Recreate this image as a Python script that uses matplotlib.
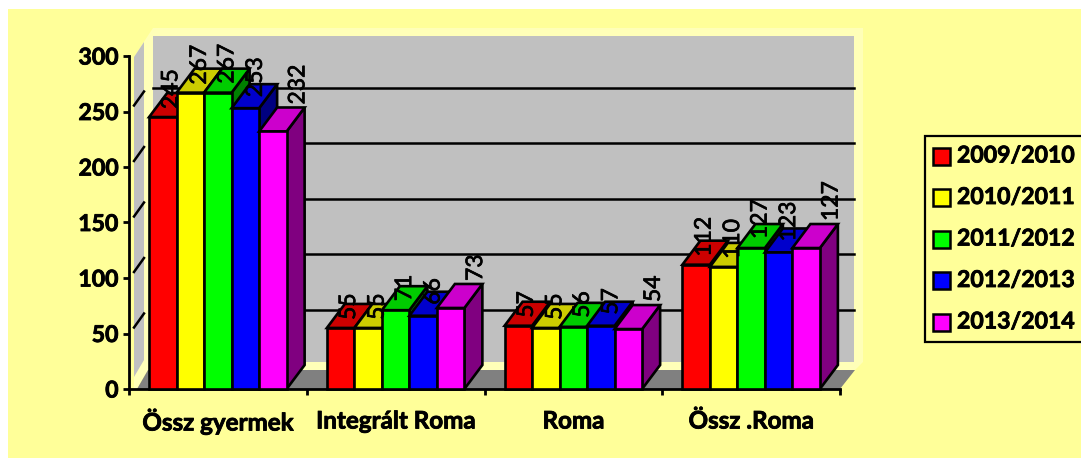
import matplotlib
matplotlib.use('Agg')
import matplotlib.pyplot as plt
import matplotlib.patheffects as pe
from matplotlib.patches import Polygon, Rectangle

categories = ['Össz gyermek', 'Integrált Roma', 'Roma', 'Össz .Roma']
seasons = ['2009/2010', '2010/2011', '2011/2012', '2012/2013', '2013/2014']
v_2009 = [245, 55, 57, 112]
v_2010 = [267, 55, 55, 110]
v_2011 = [267, 71, 56, 127]
v_2012 = [253, 66, 57, 123]
v_2013 = [232, 73, 54, 127]
series = [v_2009, v_2010, v_2011, v_2012, v_2013]
yticks = [0, 50, 100, 150, 200, 250, 300]

fronts = [(1, 0, 0), (1, 1, 0), (0, 1, 0), (0, 0, 1), (1, 0, 1)]
label_offsets = [(8, 8), (9, 8), (9, 9), (10, 11), (25, 27)]

W, H = 1081, 459
plt.rcParams['font.family'] = ['Lato', 'DejaVu Sans']
fig = plt.figure(figsize=(W / 100, H / 100), dpi=100, facecolor='white')

# the reference text is heavier than Lato, thicken it a little
bold_fx = [pe.withStroke(linewidth=0.6, foreground='black')]
label_fx = [pe.withStroke(linewidth=0.5, foreground='black')]

# background layer in pixel coordinates
bg = fig.add_axes([0, 0, 1, 1])
bg.set_xlim(0, W)
bg.set_ylim(H, 0)
bg.axis('off')
PANEL = '#FFFF99'
PALE = '#FFFFB8'
bg.add_patch(Rectangle((8, 9), W - 8, 449, fc=PANEL, ec='none'))
# pale wall edges, grey walls and floor
bg.add_patch(Polygon([(134, 57), (153, 28), (863, 28), (863, 362), (855, 370), (148, 370), (137, 389), (134, 389)],
                     fc=PALE, ec='none'))
bg.add_patch(Polygon([(153, 36), (854, 36), (854, 362), (153, 362)], fc='#C0C0C0', ec='none'))
bg.add_patch(Polygon([(134, 57), (144, 42), (144, 360), (134, 377)], fc='#C0C0C0', ec='none'))
bg.add_patch(Polygon([(137, 389), (148, 370), (855, 370), (840, 389)], fc='#808080', ec='none'))

# legend
bg.add_patch(Rectangle((925, 136), 170, 206, fc=PANEL, ec='black', lw=1.6))
for i, name in enumerate(seasons):
    yc = 156 + i * 41.5
    bg.add_patch(Rectangle((933, yc - 8.5), 17, 17, fc=fronts[i], ec='black', lw=1.8))
    bg.text(957, yc, name, fontsize=16.6, fontweight='bold', va='center', ha='left', color='black',
            path_effects=bold_fx)

# data layer
ax = fig.add_axes([129 / W, 1 - 389 / H, 711 / W, 333 / H])
ax.patch.set_alpha(0)
ax.set_xlim(0, 4)
ax.set_ylim(0, 300)
PX = 4 / 711
PY = 300 / 333
DX, DY = 18 * PX, 24 * PY

for y in yticks[1:-1]:
    ax.plot([24 * PX, 725 * PX], [y + DY, y + DY], color='black', lw=1.8, clip_on=False, zorder=1)
    ax.plot([5 * PX, 15 * PX], [y + 6 * PY, y + 20 * PY], color='black', lw=1.8, clip_on=False, zorder=1)

bw = 27.5 * PX
for g in range(len(categories)):
    for s, vals in enumerate(series):
        x0 = g + 0.5 + (s - 2.5) * bw
        x1 = x0 + bw
        v = vals[g]
        r, gr, b = fronts[s]
        top = (r * 0.8, gr * 0.8, b * 0.8)
        side = (r * 0.5, gr * 0.5, b * 0.5)
        kw = dict(ec='black', lw=1.9, joinstyle='miter', clip_on=False, zorder=3)
        ax.add_patch(Polygon([(x1, 0), (x1 + DX, DY), (x1 + DX, v + DY), (x1, v)], fc=side, **kw))
        ax.add_patch(Polygon([(x0, v), (x0 + DX, v + DY), (x1 + DX, v + DY), (x1, v)], fc=top, **kw))
        ax.add_patch(Rectangle((x0, 0), bw, v, fc=fronts[s], **kw))

for g in range(len(categories)):
    for s, vals in enumerate(series):
        ox, oy = label_offsets[s]
        xc = g + 0.5 + (s - 2) * bw
        ax.text(xc + ox * PX, vals[g] + oy * PY, str(vals[g]), rotation=90, ha='center', va='bottom',
                fontsize=16.5, color='black', clip_on=False, zorder=5, path_effects=label_fx)

ax.spines['top'].set_visible(False)
ax.spines['right'].set_visible(False)
ax.spines['left'].set_linewidth(2)
ax.spines['bottom'].set_linewidth(2)
ax.set_yticks(yticks)
ax.set_xticks([0, 1, 2, 3, 4])
ax.set_xticklabels([])
ax.tick_params(length=4.5, width=2, color='black')
for t in ax.get_yticklabels():
    t.set_fontweight('bold')
    t.set_fontsize(16.6)
    t.set_path_effects(bold_fx)
ax.tick_params(axis='y', pad=3)
for g, name in enumerate(categories):
    ax.text(g + 0.5, -32 * PY, name, ha='center', va='center', fontsize=17.4, fontweight='bold', clip_on=False,
            path_effects=bold_fx)

fig.savefig('out.png', dpi=100)
